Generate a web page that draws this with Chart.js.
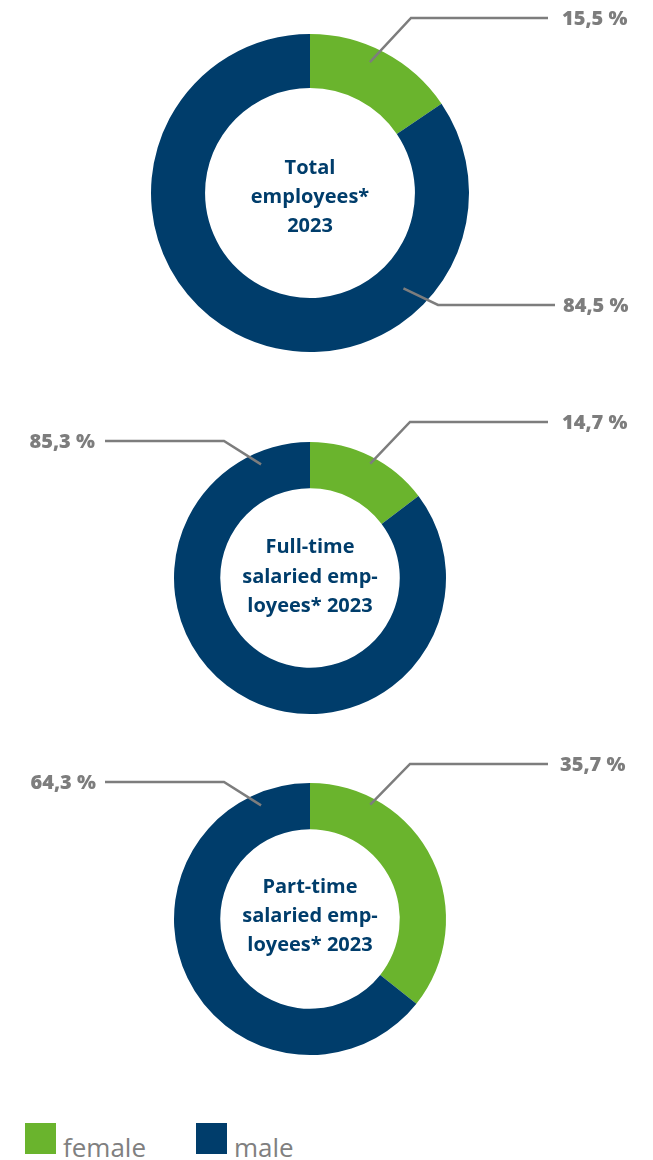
<!DOCTYPE html>
<html>
<head>
<meta charset="utf-8">
<script src="https://cdn.jsdelivr.net/npm/chart.js@4/dist/chart.umd.min.js"></script>
<style>
  html, body { margin: 0; padding: 0; background: #ffffff; }
  body { width: 653px; height: 1160px; position: relative; overflow: hidden; font-family: "Open Sans", sans-serif; }
  .wrap { position: absolute; left: 0; width: 653px; }
  .legend { position: absolute; top: 1123px; left: 25px; display: flex; align-items: flex-end; }
  .item { display: flex; align-items: flex-end; margin-right: 50px; }
  .sw { width: 31px; height: 31px; display: inline-block; }
  .lt { font-size: 26px; color: #808080; margin-left: 7px; line-height: 26px; position: relative; top: 6px; }
</style>
</head>
<body>
<div class="wrap" style="top:0px;height:370px"><canvas id="c1"></canvas></div>
<div class="wrap" style="top:390px;height:340px"><canvas id="c2"></canvas></div>
<div class="wrap" style="top:730px;height:350px"><canvas id="c3"></canvas></div>
<div class="legend" id="legend"></div>
<script>
// ---- data ----
const categories = ['female', 'male'];
const totalValues = [15.5, 84.5];
const fullTimeValues = [14.7, 85.3];
const partTimeValues = [35.7, 64.3];
const centerTitles = [
  ['Total', 'employees*', '2023'],
  ['Full-time', 'salaried emp-', 'loyees* 2023'],
  ['Part-time', 'salaried emp-', 'loyees* 2023']
];
const colors = ['#6ab42d', '#003d6b'];

function fmt(v) { return v.toFixed(1).replace('.', ',') + ' %'; }

// label layout (relative to chart centre): anchor angle (deg from top, clockwise), anchor radius fraction,
// elbow point, end of horizontal line, text x, alignment
const labelLayouts = [
  [
    { ang: 24.6, rf: 0.905, ex: 101, ey: -175, lx: 238, tx: 252, align: 'left' },
    { ang: 135.6, rf: 0.84, ex: 128, ey: 112, lx: 245, tx: 253, align: 'left' }
  ],
  [
    { ang: 27.8, rf: 0.95, ex: 100, ey: -156, lx: 238, tx: 252, align: 'left' },
    { ang: -23.3, rf: 0.91, ex: -86, ey: -137, lx: -205, tx: -215, align: 'right' }
  ],
  [
    { ang: 27.8, rf: 0.95, ex: 100, ey: -155, lx: 238, tx: 250, align: 'left' },
    { ang: -23.3, rf: 0.91, ex: -86, ey: -137, lx: -205, tx: -214, align: 'right' }
  ]
];
const centerOffsets = [[-25, 4, 33], [-31, -1, 28], [-32, -3, 26]];

const labelPlugin = {
  id: 'leaderLabels',
  afterDraw(chart, args, opts) {
    const ctx = chart.ctx;
    const arc = chart.getDatasetMeta(0).data[0];
    const cx = arc.x, cy = arc.y, R = arc.outerRadius;
    const vals = chart.data.datasets[0].data;
    opts.layout.forEach((L, i) => {
      const a = L.ang * Math.PI / 180;
      const ax = cx + Math.sin(a) * R * L.rf;
      const ay = cy - Math.cos(a) * R * L.rf;
      ctx.save();
      ctx.strokeStyle = '#7d7d7d';
      ctx.lineWidth = 2.5;
      ctx.beginPath();
      ctx.moveTo(ax, ay);
      ctx.lineTo(cx + L.ex, cy + L.ey);
      ctx.lineTo(cx + L.lx, cy + L.ey);
      ctx.stroke();
      ctx.fillStyle = '#7d7d7d';
      ctx.font = '800 20px "Open Sans"';
      ctx.textAlign = L.align;
      ctx.textBaseline = 'middle';
      ctx.fillText(fmt(vals[i]), cx + L.tx, cy + L.ey + 1);
      ctx.restore();
    });
    ctx.save();
    ctx.fillStyle = '#003d6b';
    ctx.font = 'bold 20px "Open Sans"';
    ctx.textAlign = 'center';
    ctx.textBaseline = 'middle';
    opts.title.forEach((t, j) => ctx.fillText(t, cx, cy + opts.offsets[j]));
    ctx.restore();
  }
};

function makeChart(id, values, pad, idx) {
  return new Chart(document.getElementById(id), {
    type: 'doughnut',
    data: {
      labels: categories,
      datasets: [{ data: values, backgroundColor: colors, borderWidth: 0, hoverOffset: 0 }]
    },
    options: {
      responsive: true,
      maintainAspectRatio: false,
      animation: false,
      cutout: '66%',
      layout: { padding: pad },
      plugins: {
        legend: { display: false },
        tooltip: { enabled: false },
        leaderLabels: { layout: labelLayouts[idx], title: centerTitles[idx], offsets: centerOffsets[idx] }
      }
    },
    plugins: [labelPlugin]
  });
}

makeChart('c1', totalValues, { left: 151, right: 184, top: 34, bottom: 18 }, 0);
makeChart('c2', fullTimeValues, { left: 174, right: 207, top: 52, bottom: 16 }, 1);
makeChart('c3', partTimeValues, { left: 174, right: 207, top: 53, bottom: 25 }, 2);

const lg = document.getElementById('legend');
categories.forEach((c, i) => {
  const it = document.createElement('div');
  it.className = 'item';
  const sw = document.createElement('span');
  sw.className = 'sw';
  sw.style.background = colors[i];
  const tx = document.createElement('span');
  tx.className = 'lt';
  tx.textContent = c;
  it.appendChild(sw); it.appendChild(tx);
  lg.appendChild(it);
});
</script>
</body>
</html>
